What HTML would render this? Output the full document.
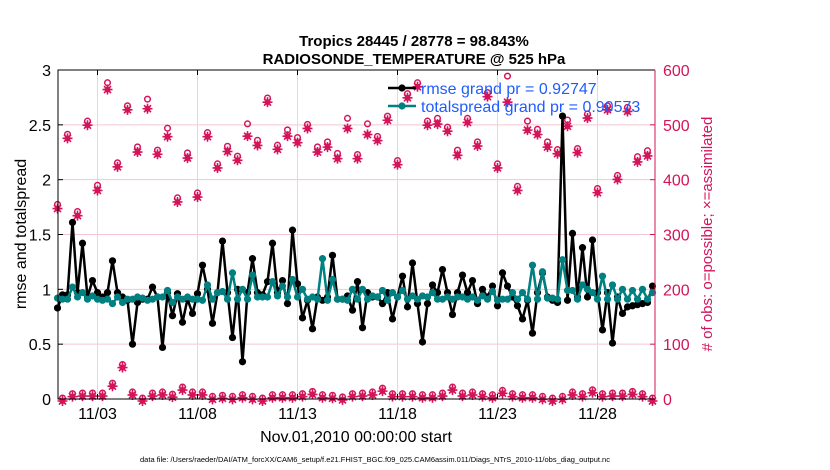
<!DOCTYPE html>
<html><head><meta charset="utf-8"><style>
html,body{margin:0;padding:0;background:#fff;width:830px;height:470px;overflow:hidden}
svg{display:block;font-family:"Liberation Sans",sans-serif}
</style></head><body>
<svg id="chart" width="830" height="470" viewBox="0 0 830 470">
<g id="grid"></g>
<g id="series"></g>
<g id="axes"></g>
<text x="414" y="46" text-anchor="middle" font-size="15" font-weight="bold">Tropics 28445 / 28778 = 98.843%</text>
<text x="414" y="64" text-anchor="middle" font-size="15" font-weight="bold">RADIOSONDE_TEMPERATURE @ 525 hPa</text>
<text transform="translate(26,234) rotate(-90)" text-anchor="middle" font-size="16">rmse and totalspread</text>
<text transform="translate(712,234) rotate(-90)" text-anchor="middle" font-size="15" fill="#d4145a"># of obs: o=possible; ×=assimilated</text>
<text x="356" y="442" text-anchor="middle" font-size="16">Nov.01,2010 00:00:00 start</text>
<text x="375" y="462" text-anchor="middle" font-size="7.5">data file: /Users/raeder/DAI/ATM_forcXX/CAM6_setup/f.e21.FHIST_BGC.f09_025.CAM6assim.011/Diags_NTrS_2010-11/obs_diag_output.nc</text>
<g id="legend"></g>
</svg>
<script>
const rmse=[0.83,0.95,0.95,1.61,0.97,1.42,0.93,1.08,0.97,0.93,0.97,1.26,0.97,0.93,0.90,0.50,0.88,0.91,0.91,1.02,0.93,0.47,0.97,0.76,0.96,0.70,0.91,0.78,0.96,1.22,1.00,0.69,0.97,1.44,0.97,0.56,1.00,0.34,0.97,1.28,
0.97,0.95,1.07,1.42,0.97,1.08,0.87,1.54,1.05,0.74,0.90,0.64,0.93,0.90,0.93,1.31,0.91,0.91,0.94,0.81,1.07,0.65,0.97,0.93,0.93,0.87,0.97,0.73,0.93,1.12,0.84,1.24,0.87,0.52,0.87,1.04,0.97,1.18,0.97,0.77,
0.97,1.13,0.97,1.08,0.87,1.00,0.93,1.03,0.85,1.15,1.03,0.93,0.85,0.73,0.90,0.60,0.97,1.15,0.93,0.90,0.88,2.58,0.90,1.51,0.93,1.38,0.93,1.45,0.97,0.63,0.97,0.51,0.93,0.78,0.84,0.85,0.86,0.87,0.88,1.03];
const spread=[0.92,0.91,0.91,1.02,0.93,0.97,0.91,0.94,0.91,0.90,0.91,0.87,0.93,0.88,0.91,0.91,0.93,0.92,0.90,0.91,0.93,0.93,0.99,0.88,0.93,0.91,0.93,0.91,0.91,0.90,1.04,0.91,0.97,0.98,0.91,1.15,0.91,1.00,0.91,1.13,
0.93,0.93,0.93,1.07,0.94,1.03,0.93,1.09,0.93,1.00,0.91,0.93,0.91,1.28,0.90,1.09,0.91,0.91,0.90,1.00,0.91,1.00,0.91,0.94,0.93,0.99,0.90,0.97,0.93,0.99,0.91,0.94,0.91,0.94,0.93,0.97,0.91,0.91,0.93,0.91,
0.93,0.93,0.91,0.93,0.90,0.94,0.91,0.98,0.90,0.91,0.91,0.97,0.91,0.97,0.91,1.22,0.91,1.16,0.92,0.92,0.91,1.27,0.99,0.99,0.91,1.04,1.00,0.97,0.91,1.12,0.91,1.04,0.91,1.00,0.91,0.99,0.91,1.00,0.91,0.97];
const assimilated=[351,0,479,8,338,9,503,9,384,9,568,27,427,61,531,11,454,0,533,9,450,11,482,7,363,20,443,11,372,11,482,3,425,5,455,3,439,6,483,3,
466,0,545,6,459,6,483,6,471,8,497,12,454,6,463,5,442,2,497,8,442,9,486,11,475,18,512,8,431,8,553,8,573,6,503,6,505,9,492,20,
448,9,508,11,465,8,555,6,425,14,545,8,384,6,494,6,486,3,463,0,451,3,501,11,453,8,516,15,380,8,531,9,404,9,528,12,436,8,447,0];
const possible=[353,0,481,8,340,9,505,9,388,9,575,27,429,61,533,11,458,0,545,9,452,11,492,7,365,20,447,11,374,11,484,3,427,5,459,3,441,6,500,3,
470,0,547,6,461,6,489,6,475,8,499,12,458,6,467,5,446,2,510,8,444,9,500,11,477,18,514,8,433,8,555,8,575,6,505,6,510,9,494,20,
452,9,510,11,467,8,557,6,427,14,587,8,386,6,505,6,490,3,467,0,453,3,507,11,455,8,518,15,382,8,533,9,406,9,530,12,440,8,451,0];
const xTickLabels=["11/03","11/08","11/13","11/18","11/23","11/28"];
const xTickDays=[2,7,12,17,22,27];
const yTicks=[0,0.5,1,1.5,2,2.5,3];
const yTickLabels=["0","0.5","1","1.5","2","2.5","3"];
const rTicks=[0,100,200,300,400,500,600];

const L=58,R=655,T=70,B=399;
const sx=t=>57.5+t*20;           // t in days since Nov 1 00Z
const sy=v=>B-(v/3)*(B-T);
const sr=c=>B-(c/600)*(B-T);
const NS="http://www.w3.org/2000/svg";
function mk(tag,attrs,parent){const e=document.createElementNS(NS,tag);for(const k in attrs)e.setAttribute(k,attrs[k]);parent.appendChild(e);return e;}
const grid=document.getElementById('grid'),series=document.getElementById('series'),axes=document.getElementById('axes'),legend=document.getElementById('legend');
const MAG="#d4145a",TEAL="#008080";

yTicks.forEach((v,i)=>{
  if(v>0&&v<3){const g=mk('line',{x1:L,x2:R,y1:sy(v),y2:sy(v),stroke:'#f2c6d4','stroke-width':1},grid);
  
  }
  const t=mk('text',{x:L-7,y:sy(v)+6,'text-anchor':'end','font-size':16},axes);t.textContent=yTickLabels[i];
  
  
  mk('line',{x1:L,x2:L+5,y1:sy(v),y2:sy(v),stroke:'#000'},axes);
});
rTicks.forEach(c=>{
  const t=mk('text',{x:R+8,y:sr(c)+6,'font-size':16,fill:MAG},axes);t.textContent=String(c);
  
  
  mk('line',{x1:R-5,x2:R,y1:sr(c),y2:sr(c),stroke:MAG},axes);
});
xTickDays.forEach((d,i)=>{
  const g=mk('line',{x1:sx(d),x2:sx(d),y1:T,y2:B,stroke:'#dcdcdc','stroke-width':1},grid);
  
  
  mk('line',{x1:sx(d),x2:sx(d),y1:B,y2:B-5,stroke:'#000'},axes);
  mk('line',{x1:sx(d),x2:sx(d),y1:T,y2:T+5,stroke:'#000'},axes);
  const t=mk('text',{x:sx(d),y:B+20,'text-anchor':'middle','font-size':16},axes);t.textContent=xTickLabels[i];
  
  
});
mk('path',{d:`M${R},${T}H${L}V${B}H${R}`,fill:'none',stroke:'#000','stroke-width':1},axes);
mk('line',{x1:R,x2:R,y1:T,y2:B,stroke:MAG,'stroke-width':1},axes);

// counts
possible.forEach((c,i)=>{
  const o=mk('circle',{cx:sx(i*0.25),cy:sr(c)-1,r:2.8,fill:'none',stroke:MAG,'stroke-width':1.5},series);
  
  
});
assimilated.forEach((c,i)=>{
  const x=sx(i*0.25),y=sr(c)+2;
  const g=mk('g',{},series);
  
  
  mk('circle',{cx:x,cy:y,r:3,fill:MAG},g);
  mk('path',{d:`M${x-5},${y}H${x+5}M${x},${y-5}V${y+5}M${x-3.5},${y-3.5}L${x+3.5},${y+3.5}M${x-3.5},${y+3.5}L${x+3.5},${y-3.5}`,stroke:MAG,'stroke-width':1.6},g);
});
function line(arr,color,name){
  const d=arr.map((v,i)=>(i?'L':'M')+sx(i*0.25).toFixed(1)+','+sy(v).toFixed(1)).join('');
  const p=mk('path',{d,fill:'none',stroke:color,'stroke-width':2.5,'stroke-linejoin':'round'},series);
  
  
  arr.forEach((v,i)=>{const c=mk('circle',{cx:sx(i*0.25),cy:sy(v),r:3.6,fill:color},series);
    
    });
}
line(rmse,'#000','rmse');
line(spread,TEAL,'totalspread');

// legend
[['rmse grand pr = 0.92747','#000',88],['totalspread grand pr = 0.90573',TEAL,106]].forEach(([txt,col,y])=>{
  const g=mk('g',{},legend);
  
  
  mk('line',{x1:388,x2:416,y1:y,y2:y,stroke:col,'stroke-width':2.5},g);
  mk('circle',{cx:402,cy:y,r:3.6,fill:col},g);
  const t=mk('text',{x:421,y:y+6,'font-size':16,fill:'#1f5cff'},g);t.textContent=txt;
});
</script>
</body></html>
